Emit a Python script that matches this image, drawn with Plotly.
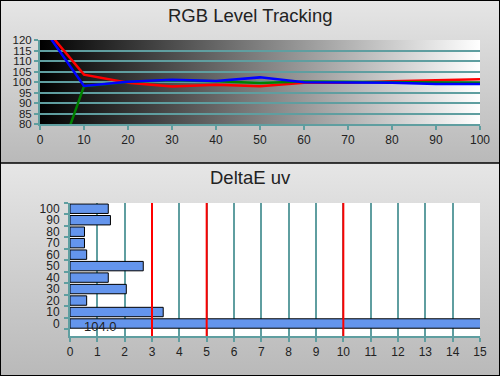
import base64
import plotly.graph_objects as go

# ---------------- data ----------------
levels = [0, 10, 20, 30, 40, 50, 60, 70, 80, 90, 100]
red_vals = [128.5, 103.5, 99.6, 97.9, 98.7, 98.0, 99.6, 99.7, 100.3, 100.8, 101.3]
green_vals = [38.6, 98.0, 100.0, 100.8, 100.3, 99.5, 100.2, 100.0, 100.1, 99.9, 99.6]
blue_vals = [128.0, 98.1, 100.1, 101.1, 100.5, 102.2, 99.9, 99.8, 99.7, 99.0, 99.0]

de_cats = ["0", "10", "20", "30", "40", "50", "60", "70", "80", "90", "100"]
de_vals = [104.0, 3.41, 0.61, 2.06, 1.40, 2.68, 0.61, 0.53, 0.53, 1.48, 1.40]
limit_lines = [3, 5, 10]

rgb_ticks = [80, 85, 90, 95, 100, 105, 110, 115, 120]
x_ticks_top = [0, 10, 20, 30, 40, 50, 60, 70, 80, 90, 100]
x_ticks_bottom = list(range(0, 16))

TEAL = "#5F9EA0"
FONT = "Liberation Sans, Arial, sans-serif"
TXT = "#222222"


def svg_uri(svg):
    return "data:image/svg+xml;base64," + base64.b64encode(svg.encode()).decode()


panel_grad = svg_uri(
    '<svg xmlns="http://www.w3.org/2000/svg" width="100" height="100" preserveAspectRatio="none">'
    '<defs><linearGradient id="g" x1="0" y1="0" x2="0" y2="1">'
    '<stop offset="0" stop-color="#e6e6e6"/><stop offset="1" stop-color="#b9b9b9"/>'
    '</linearGradient></defs><rect width="100" height="100" fill="url(#g)"/></svg>'
)
plot_grad = svg_uri(
    '<svg xmlns="http://www.w3.org/2000/svg" width="100" height="100" preserveAspectRatio="none">'
    '<defs><linearGradient id="g" x1="0" y1="0" x2="1" y2="0">'
    '<stop offset="0" stop-color="#000000"/><stop offset="1" stop-color="#ffffff"/>'
    '</linearGradient></defs><rect width="100" height="100" fill="url(#g)"/></svg>'
)

W, H = 500, 376
split = 1 - 163 / H

fig = go.Figure()

for vals, col in [(red_vals, "#ff0000"), (green_vals, "#008000"), (blue_vals, "#0000ff")]:
    fig.add_trace(go.Scatter(x=levels, y=vals, mode="lines",
                             line=dict(color=col, width=2.5),
                             xaxis="x", yaxis="y", showlegend=False, hoverinfo="skip"))

fig.add_trace(go.Bar(x=de_vals, y=de_cats, orientation="h",
                     marker=dict(color="#6495ED", line=dict(color="#000000", width=1)),
                     xaxis="x2", yaxis="y2", showlegend=False, hoverinfo="skip"))

axis_common = dict(showline=True, linecolor=TEAL, linewidth=2, automargin=False,
                   ticks="outside", tickcolor=TEAL, ticklen=4, tickwidth=2,
                   zeroline=False)
font12 = dict(family=FONT, size=12, color=TXT)

fig.update_layout(
    width=W, height=H, autosize=False,
    margin=dict(l=0, r=0, t=0, b=0, pad=0, autoexpand=False),
    paper_bgcolor="#cfcfcf",
    plot_bgcolor="rgba(0,0,0,0)",
    bargap=0.18,
    hovermode=False,
    showlegend=False,
    xaxis=dict(domain=[40 / W, 480 / W], anchor="y", range=[0, 100],
               tickvals=x_ticks_top, showgrid=False, tickfont=font12, **axis_common),
    yaxis=dict(domain=[1 - 124 / H, 1 - 40 / H], anchor="x", range=[80, 120],
               tickvals=rgb_ticks, showgrid=True, gridcolor=TEAL, gridwidth=1.5,
               tickfont=dict(family=FONT, size=11.5, color=TXT), **axis_common),
    xaxis2=dict(domain=[70 / W, 480 / W], anchor="y2", range=[0, 15],
                tickvals=x_ticks_bottom, showgrid=True, gridcolor=TEAL, gridwidth=1.5,
                tickfont=font12, **axis_common),
    yaxis2=dict(domain=[1 - 336 / H, 1 - 203 / H], anchor="x2", type="category",
                categoryorder="array", categoryarray=de_cats, tickson="boundaries",
                tickmode="array", tickvals=de_cats, ticktext=de_cats,
                ticklabelstandoff=6, tickfont=font12,
                showgrid=False, **axis_common),
)

fig.add_layout_image(dict(source=panel_grad, xref="paper", yref="paper", x=0, y=1,
                          sizex=1, sizey=1 - split, sizing="stretch", layer="below",
                          xanchor="left", yanchor="top"))
fig.add_layout_image(dict(source=panel_grad, xref="paper", yref="paper", x=0, y=split,
                          sizex=1, sizey=split, sizing="stretch", layer="below",
                          xanchor="left", yanchor="top"))
fig.add_layout_image(dict(source=plot_grad, xref="x", yref="y", x=0, y=120,
                          sizex=100, sizey=40, sizing="stretch", layer="below",
                          xanchor="left", yanchor="top"))

# white plot area for bottom chart
fig.add_shape(type="rect", xref="x2 domain", yref="y2 domain", x0=0, x1=1, y0=0, y1=1,
              fillcolor="#ffffff", line=dict(width=0), layer="below")

for v in limit_lines:
    fig.add_shape(type="line", xref="x2", yref="y2 domain", x0=v, x1=v, y0=0, y1=1,
                  line=dict(color="#ff0000", width=2))

# divider and border
fig.add_shape(type="line", xref="paper", yref="paper", x0=0, x1=1, y0=split, y1=split,
              line=dict(color="#000000", width=1.5))
fig.add_shape(type="rect", xref="paper", yref="paper", x0=0, x1=1, y0=0, y1=1,
              line=dict(color="#000000", width=2))

fig.add_annotation(text="RGB Level Tracking", xref="paper", yref="paper", x=0.5,
                   y=1 - 16 / H, showarrow=False, xanchor="center", yanchor="middle",
                   font=dict(family=FONT, size=18.5, color=TXT))
fig.add_annotation(text="DeltaE uv", xref="paper", yref="paper", x=0.5,
                   y=1 - 177 / H, showarrow=False, xanchor="center", yanchor="middle",
                   font=dict(family=FONT, size=18.5, color=TXT))

fig.add_annotation(text=f"{de_vals[0]:.1f}", xref="x2", yref="y2", x=0.45, y=de_cats[0],
                   showarrow=False, xanchor="left", yanchor="middle", yshift=-3,
                   font=dict(family=FONT, size=13, color=TXT))

post = (
    "var s=document.createElement('style');"
    "s.innerHTML='html,body{margin:0!important;padding:0!important;overflow:hidden;"
    "width:500px;height:376px;}';"
    "document.head.appendChild(s);"
    "var gd=document.getElementById('{plot_id}');"
    "gd.style.position='absolute';gd.style.left='0px';gd.style.top='0px';"
)

fig.write_html("out.html",
               config={"displayModeBar": False, "responsive": False},
               post_script=post)
